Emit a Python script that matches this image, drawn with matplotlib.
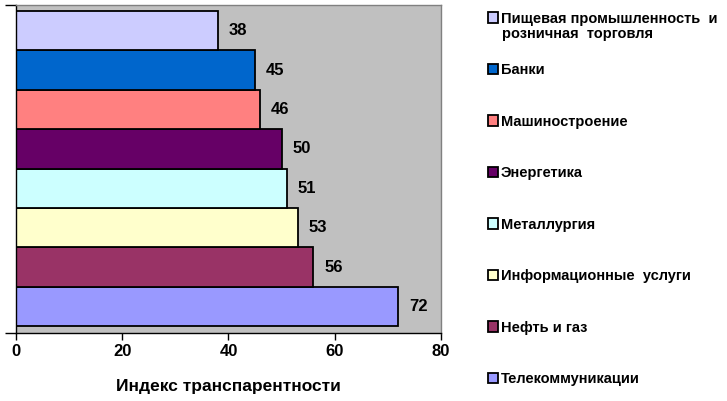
import matplotlib
matplotlib.use('Agg')
import numpy as np
from matplotlib import pyplot as plt

plt.rcParams['font.family'] = ['Liberation Sans', 'DejaVu Sans']
plt.rcParams['font.weight'] = 'bold'

# bottom to top
sectors = ['Телекоммуникации', 'Нефть и газ', 'Информационные  услуги', 'Металлургия',
           'Энергетика', 'Машиностроение', 'Банки',
           'Пищевая промышленность  и']
sector_line2 = 'розничная  торговля'  # second line of the top sector's label
values = [72, 56, 53, 51, 50, 46, 45, 38]
colors = ['#9999FF', '#993366', '#FFFFCC', '#CCFFFF',
          '#660066', '#FF8080', '#0066CC', '#CCCCFF']
xticks = [0, 20, 40, 60, 80]

fig = plt.figure(figsize=[7.27, 4.01], dpi=100)
ax = fig.add_axes([0.022, 0.1696, 0.5846, 0.8179])
ax.set_facecolor('#C0C0C0')

y = np.arange(len(values))
bars = []
for i, (s, v, c) in enumerate(zip(sectors, values, colors)):
    b = ax.barh(y[i], v, height=1.0, color=c, edgecolor='black', linewidth=1.3, label=s)
    bars.append(b)
    ax.text(v + 2.0, y[i], str(v), va='center', ha='left', fontsize=12, fontweight='bold')

ax.set_xlim(0, 80)
ax.set_ylim(-0.67, 7.65)
ax.set_xticks(xticks)
ax.set_xticklabels([str(t) for t in xticks], fontsize=12, fontweight='bold')
ax.tick_params(axis='x', direction='out', length=5, width=1, pad=3)
ax.set_yticks([-0.67, 7.65])
ax.set_yticklabels([])
ax.tick_params(axis='y', direction='out', length=8, width=1)
for side in ['left', 'bottom']:
    ax.spines[side].set_color('black')
    ax.spines[side].set_linewidth(1.0)
for side in ['top', 'right']:
    ax.spines[side].set_color('#808080')
    ax.spines[side].set_linewidth(1.0)

ax.set_xlabel('Индекс транспарентности', fontsize=12.5, fontweight='bold', labelpad=14)

handles = bars[::-1]
labels = sectors[::-1]
leg = fig.legend(handles, labels, loc='upper left', bbox_to_anchor=(0.655, 1.0),
                 frameon=False, fontsize=10.5, handlelength=0.7, handleheight=0.7,
                 handletextpad=0.2, labelspacing=2.57, borderpad=0.3)
fig.canvas.draw()
t0 = leg.get_texts()[0]
bb = t0.get_window_extent().transformed(fig.transFigure.inverted())
fig.text(bb.x0 + 0.001, bb.y0 - 0.003, sector_line2, fontsize=10.5, fontweight='bold',
         ha='left', va='top')

fig.savefig('out.png', dpi=100)
